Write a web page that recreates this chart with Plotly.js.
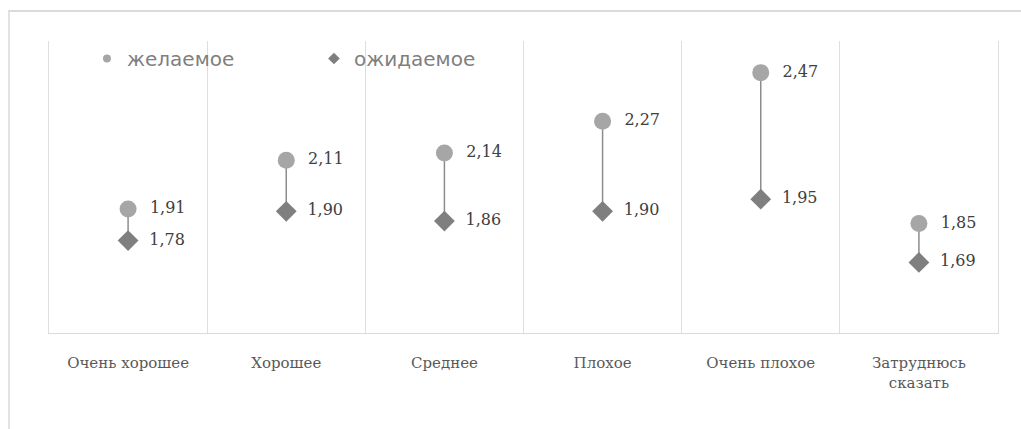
<!DOCTYPE html>
<html>
<head>
<meta charset="utf-8">
<script src="https://cdn.plot.ly/plotly-3.0.1.min.js"></script>
<style>
  html, body { margin: 0; padding: 0; background: #ffffff; }
  #wrap { position: relative; width: 1021px; height: 429px; overflow: hidden; }
  #chart { position: absolute; left: 0; top: 0; width: 1021px; height: 429px; }
  #frame { position: absolute; left: 8px; top: 10px; right: -5px; bottom: -5px;
           border-top: 2px solid #dadada; border-left: 2px solid #e2e2e2; pointer-events: none; }
</style>
</head>
<body>
<div id="wrap">
  <div id="chart"></div>
  <div id="frame"></div>
</div>
<script>
// ---- data ----
const categories = ["Очень хорошее", "Хорошее", "Среднее", "Плохое", "Очень плохое", "Затруднюсь<br>сказать"];
const desired  = [1.91, 2.11, 2.14, 2.27, 2.47, 1.85];   // желаемое
const expected = [1.78, 1.90, 1.86, 1.90, 1.95, 1.69];   // ожидаемое
const seriesNames = ["желаемое", "ожидаемое"];

// connector segments built from the data
const segX = [], segY = [];
categories.forEach((c, i) => { segX.push(c, c, null); segY.push(desired[i], expected[i], null); });

const labelFont = { family: "DejaVu Serif", size: 16, color: "#404040" };
const desiredColor = "#a6a6a6", expectedColor = "#7f7f7f";

const traces = [
  { x: segX, y: segY, type: "scatter", mode: "lines",
    line: { color: "#8c8c8c", width: 1.5 }, showlegend: false, hoverinfo: "skip", connectgaps: false },
  { x: categories, y: desired, name: seriesNames[0], type: "scatter", mode: "markers+text",
    marker: { symbol: "circle", size: 17, color: desiredColor }, showlegend: false,
    texttemplate: "\u00a0\u00a0%{y:.2f}", textposition: "middle right", textfont: labelFont },
  { x: categories, y: expected, name: seriesNames[1], type: "scatter", mode: "markers+text",
    marker: { symbol: "diamond", size: 16, color: expectedColor }, showlegend: false,
    texttemplate: "\u00a0\u00a0%{y:.2f}", textposition: "middle right", textfont: labelFont },
  // legend-only entries (small legend symbols)
  { x: [null], y: [null], name: seriesNames[0], type: "scatter", mode: "markers",
    marker: { symbol: "circle", size: 8, color: desiredColor }, hoverinfo: "skip" },
  { x: [null], y: [null], name: seriesNames[1], type: "scatter", mode: "markers",
    marker: { symbol: "diamond", size: 9, color: expectedColor }, hoverinfo: "skip" }
];

const layout = {
  width: 1021, height: 429,
  margin: { l: 49, r: 23, t: 41, b: 96 },
  paper_bgcolor: "#ffffff", plot_bgcolor: "#ffffff",
  separators: ", ",
  showlegend: true,
  legend: {
    orientation: "h", x: 0.04, xanchor: "left", y: 0.94, yanchor: "middle",
    font: { family: "DejaVu Sans", size: 20, color: "#7f7f7f" },
    entrywidth: 182, entrywidthmode: "pixels",
    itemsizing: "trace", bgcolor: "rgba(0,0,0,0)"
  },
  xaxis: {
    type: "category", range: [-0.5, 5.5], tickson: "boundaries", showgrid: true,
    gridcolor: "#dedede", gridwidth: 1,
    ticks: "", showline: true, linecolor: "#d9d9d9", linewidth: 1, ticklabelstandoff: 16,
    tickfont: { family: "DejaVu Serif", size: 15, color: "#595959" },
    zeroline: false, fixedrange: true
  },
  yaxis: {
    range: [1.4, 2.6], showgrid: false, zeroline: false, showticklabels: false, ticks: "",
    showline: true, mirror: true, linecolor: "#dedede", linewidth: 1, fixedrange: true
  }
};

Plotly.newPlot("chart", traces, layout, { displayModeBar: false, staticPlot: true });
</script>
</body>
</html>
